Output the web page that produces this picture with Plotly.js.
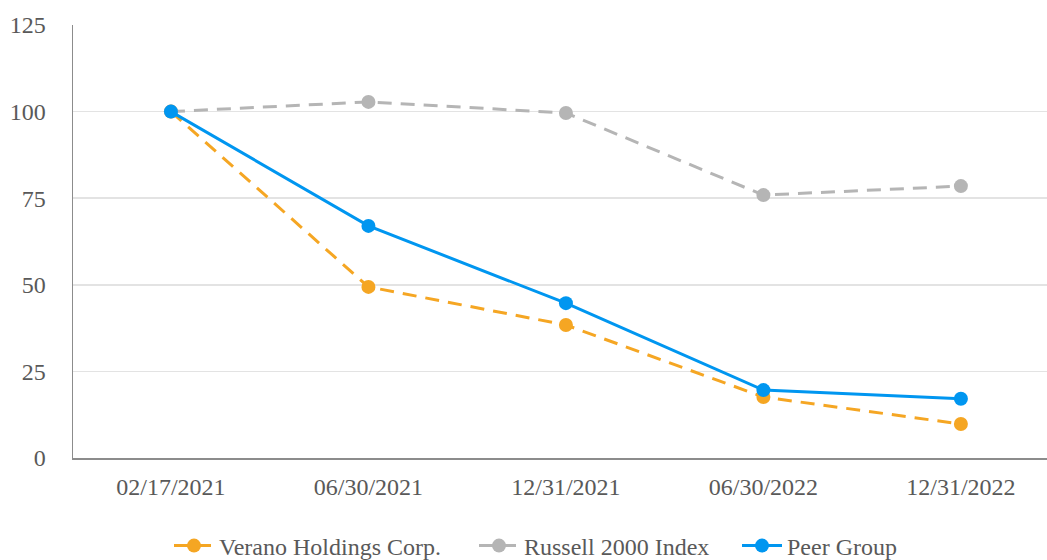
<!DOCTYPE html>
<html>
<head>
<meta charset="utf-8">
<script src="https://cdn.plot.ly/plotly-3.0.1.min.js"></script>
<style>html,body{margin:0;padding:0;background:#fff;}#chart{width:1047px;height:560px;}</style>
</head>
<body>
<div id="chart"></div>
<script>
var categories = ["02/17/2021", "06/30/2021", "12/31/2021", "06/30/2022", "12/31/2022"];
var veranoValues = [100, 49.4, 38.4, 17.6, 9.8];
var russellValues = [100, 102.8, 99.6, 75.9, 78.5];
var peerValues = [100, 67.0, 44.7, 19.6, 17.1];
var yTicks = [0, 25, 50, 75, 100, 125];

var FONT = "'Liberation Serif', 'Times New Roman', serif";
var traces = [
  {x: categories, y: veranoValues, name: "Verano Holdings Corp.", type: "scatter", mode: "lines+markers", legend: "legend",
   line: {color: "#F5A623", width: 3, dash: "14px,9px"}, marker: {color: "#F5A623", size: 14}},
  {x: categories, y: russellValues, name: "Russell 2000 Index", type: "scatter", mode: "lines+markers", legend: "legend2",
   line: {color: "#B5B5B5", width: 3, dash: "14px,9px"}, marker: {color: "#B5B5B5", size: 14}},
  {x: categories, y: peerValues, name: "Peer Group", type: "scatter", mode: "lines+markers", legend: "legend3",
   line: {color: "#0096F0", width: 3}, marker: {color: "#0096F0", size: 14}}
];

function leg(px) {
  return {orientation: "h", xref: "container", yref: "container", x: px / 1047, xanchor: "left", y: 14 / 560, yanchor: "middle",
          itemwidth: 40, font: {family: FONT, size: 24, color: "#595959"}, bgcolor: "rgba(0,0,0,0)"};
}

var layout = {
  width: 1047, height: 560,
  margin: {l: 73, r: 0, t: 25, b: 102},
  paper_bgcolor: "#fff", plot_bgcolor: "#fff",
  font: {family: FONT, size: 24, color: "#595959"},
  showlegend: true,
  legend: leg(169), legend2: leg(474), legend3: leg(737),
  xaxis: {type: "category", range: [-0.496, 4.436], showgrid: false, showline: true, linecolor: "#8c8c8c", linewidth: 1.5,
          ticks: "", ticklabelstandoff: 7, fixedrange: true, zeroline: false},
  yaxis: {range: [0, 125], tickvals: yTicks, ticktext: yTicks.map(String), showgrid: true, gridcolor: "#E3E3E3", gridwidth: 1.5,
          showline: true, linecolor: "#8c8c8c", linewidth: 1.5, ticks: "", ticklabelstandoff: 21, zeroline: false, fixedrange: true}
};

Plotly.newPlot("chart", traces, layout, {displayModeBar: false, staticPlot: true});
</script>
</body>
</html>
